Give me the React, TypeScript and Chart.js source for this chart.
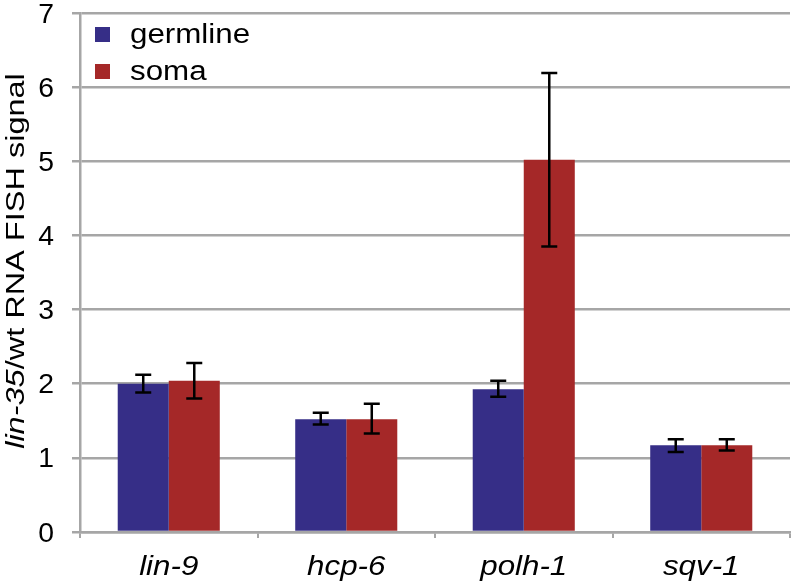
import React, { useEffect, useRef } from "react";
import { Chart, registerables } from "chart.js";

Chart.register(...registerables);

const categories = ["lin-9", "hcp-6", "polh-1", "sqv-1"];
const seriesNames = ["germline", "soma"];
const germline = [2.0, 1.52, 1.925, 1.17];
const germlineLow = [1.88, 1.45, 1.825, 1.08];
const germlineHigh = [2.12, 1.61, 2.04, 1.25];
const soma = [2.04, 1.52, 5.02, 1.17];
const somaLow = [1.8, 1.33, 3.85, 1.1];
const somaHigh = [2.28, 1.73, 6.19, 1.25];
const yTicks = [0, 1, 2, 3, 4, 5, 6, 7];
const yTitleItalic = "lin-35";
const yTitleRest = "/wt RNA FISH signal";

const COLORS = ["#362E87", "#A52828"];
const GRID = "#A6A6A6";
const FONT = "'Liberation Sans', Arial, sans-serif";
const SX = 1.16;

type Part = { text: string; italic?: boolean };

function drawParts(
  ctx: CanvasRenderingContext2D,
  parts: Part[],
  size: number,
  align: "left" | "center" | "right",
  sx: number
) {
  let total = 0;
  const widths = parts.map((p) => {
    ctx.font = `${p.italic ? "italic " : ""}${size}px ${FONT}`;
    const w = ctx.measureText(p.text).width;
    total += w;
    return w;
  });
  let start = 0;
  if (align === "center") start = -total / 2;
  if (align === "right") start = -total;
  ctx.save();
  ctx.scale(sx, 1);
  let x = start;
  parts.forEach((p, i) => {
    ctx.font = `${p.italic ? "italic " : ""}${size}px ${FONT}`;
    ctx.textAlign = "left";
    ctx.textBaseline = "alphabetic";
    ctx.fillText(p.text, x, 0);
    x += widths[i];
  });
  ctx.restore();
}

const errorBars = {
  id: "errorBars",
  afterDatasetsDraw(chart: any) {
    const ctx = chart.ctx as CanvasRenderingContext2D;
    const y = chart.scales.y;
    const lows = [germlineLow, somaLow];
    const highs = [germlineHigh, somaHigh];
    ctx.save();
    ctx.strokeStyle = "#000";
    ctx.lineWidth = 2.5;
    chart.data.datasets.forEach((_: any, di: number) => {
      const meta = chart.getDatasetMeta(di);
      meta.data.forEach((bar: any, i: number) => {
        const x = bar.x;
        const yl = y.getPixelForValue(lows[di][i]);
        const yh = y.getPixelForValue(highs[di][i]);
        ctx.beginPath();
        ctx.moveTo(x, yl);
        ctx.lineTo(x, yh);
        ctx.moveTo(x - 8, yl);
        ctx.lineTo(x + 8, yl);
        ctx.moveTo(x - 8, yh);
        ctx.lineTo(x + 8, yh);
        ctx.stroke();
      });
    });
    ctx.restore();
  },
};

const texts = {
  id: "texts",
  afterDraw(chart: any) {
    const ctx = chart.ctx as CanvasRenderingContext2D;
    const ys = chart.scales.y;
    const xs = chart.scales.x;
    ctx.save();
    ctx.fillStyle = "#000";
    yTicks.forEach((v) => {
      const py = ys.getPixelForValue(v);
      ctx.save();
      ctx.translate(54, py + 9.5);
      drawParts(ctx, [{ text: String(v) }], 27, "right", 1.05);
      ctx.restore();
    });
    categories.forEach((c, i) => {
      const px = xs.getPixelForValue(i);
      ctx.save();
      ctx.translate(px, 575);
      drawParts(ctx, [{ text: c, italic: true }], 27, "center", SX);
      ctx.restore();
    });
    const legendY = [43, 80];
    seriesNames.forEach((n, i) => {
      ctx.fillStyle = COLORS[i];
      ctx.fillRect(95, legendY[i] - 16, 15, 15);
      ctx.fillStyle = "#000";
      ctx.save();
      ctx.translate(130, legendY[i]);
      drawParts(ctx, [{ text: n }], 27, "left", SX);
      ctx.restore();
    });
    ctx.save();
    ctx.translate(24, 261);
    ctx.rotate(-Math.PI / 2);
    drawParts(
      ctx,
      [
        { text: yTitleItalic, italic: true },
        { text: yTitleRest },
      ],
      26,
      "center",
      1.25
    );
    ctx.restore();
    ctx.restore();
  },
};

export default function App() {
  const ref = useRef<HTMLCanvasElement>(null);
  useEffect(() => {
    if (!ref.current) return;
    const chart = new Chart(ref.current, {
      type: "bar",
      data: {
        labels: categories,
        datasets: [
          {
            label: seriesNames[0],
            data: germline,
            backgroundColor: COLORS[0],
            categoryPercentage: 0.575,
            barPercentage: 1.0,
          },
          {
            label: seriesNames[1],
            data: soma,
            backgroundColor: COLORS[1],
            categoryPercentage: 0.575,
            barPercentage: 1.0,
          },
        ],
      },
      options: {
        responsive: false,
        animation: false,
        layout: { padding: { top: 13, right: 2, left: 0, bottom: 0 } },
        plugins: {
          legend: { display: false },
          tooltip: { enabled: false },
          title: { display: false },
        },
        scales: {
          x: {
            offset: true,
            grid: {
              offset: true,
              drawOnChartArea: false,
              drawTicks: true,
              tickLength: 6,
              color: GRID,
              lineWidth: 2,
            },
            border: { display: true, color: GRID, width: 2.5 },
            ticks: { display: false },
            afterFit(scale: any) {
              scale.height = 50;
            },
          },
          y: {
            min: 0,
            max: 7,
            ticks: { display: false, stepSize: 1 },
            grid: {
              color: GRID,
              lineWidth: 2.5,
              drawTicks: true,
              tickLength: 8,
            },
            border: { display: true, color: GRID, width: 2.5 },
            afterFit(scale: any) {
              scale.width = 80;
            },
          },
        },
      },
      plugins: [errorBars, texts],
    });
    return () => chart.destroy();
  }, []);
  return (
    <div style={{ position: "absolute", left: 0, top: 0, width: 792, height: 582, background: "#fff" }}>
      <canvas ref={ref} width={792} height={582} />
    </div>
  );
}
